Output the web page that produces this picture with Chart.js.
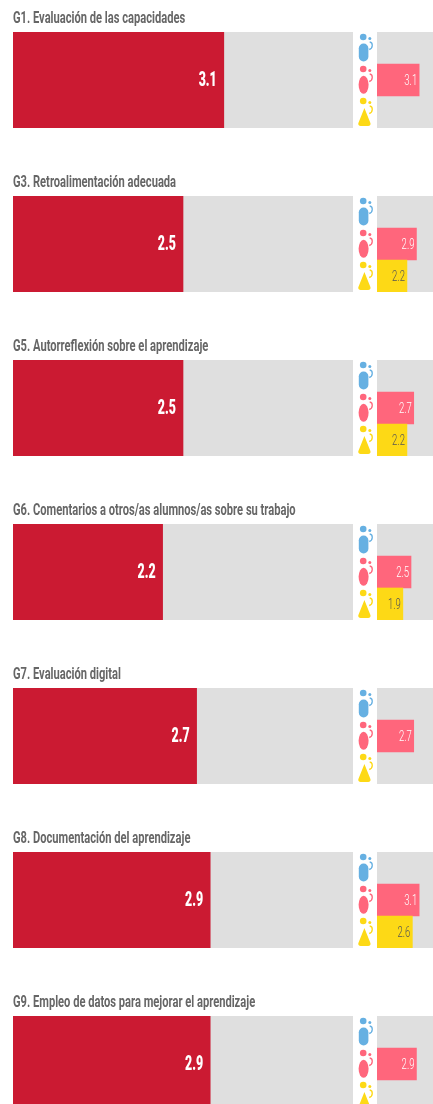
<!DOCTYPE html>
<html><head><meta charset="utf-8">
<script src="https://cdn.jsdelivr.net/npm/chart.js@4"></script>
<style>
html,body{margin:0;padding:0;width:433px;height:1104px;overflow:hidden;background:#fff}
#wrap{position:relative;width:433px;height:1104px;overflow:hidden;filter:blur(.35px)}
.t{position:absolute;left:13px;font:bold 17px Roboto,sans-serif;color:#666;white-space:nowrap;line-height:18px;transform-origin:left center;transform:scaleX(.655)}
canvas{position:absolute}
svg{position:absolute}
</style></head><body><div id="wrap"></div>
<script>
const titles=["G1. Evaluación de las capacidades","G3. Retroalimentación adecuada","G5. Autorreflexión sobre el aprendizaje","G6. Comentarios a otros/as alumnos/as sobre su trabajo","G7. Evaluación digital","G8. Documentación del aprendizaje","G9. Empleo de datos para mejorar el aprendizaje"];
const overall=[3.1,2.5,2.5,2.2,2.7,2.9,2.9];
const blueSeries=[null,null,null,null,null,null,null];
const pinkSeries=[3.1,2.9,2.7,2.5,2.7,3.1,2.9];
const yellowSeries=[null,2.2,2.2,1.9,null,2.6,null];
const axisMax=5;
const GREY='#dfdfdf',RED='#cb1a32',PINK='#ff667c',YEL='#fdd916',BLUE='#66b0e2';

const bg={id:'bg',beforeDraw(c){const a=c.chartArea,x=c.ctx;x.save();x.fillStyle=GREY;x.fillRect(a.left,a.top,a.right-a.left,a.bottom-a.top);x.restore();}};
const labels={id:'labels',afterDatasetsDraw(c,_,o){const x=c.ctx,m=c.getDatasetMeta(0),d=c.data.datasets[0];
 m.data.forEach((b,i)=>{const v=d.data[i];if(v==null)return;x.save();x.textBaseline='middle';x.textAlign='right';x.font=o.font;x.fillStyle=o.colors[i];x.translate(b.x-o.pad,b.y+1);x.scale(o.sx,1);x.fillText(v.toFixed(1),0,0);x.restore();});}};
function opts(lbl){return{responsive:false,animation:false,indexAxis:'y',devicePixelRatio:1,layout:{padding:0},
 scales:{x:{display:false,min:0,max:axisMax},y:{display:false}},
 plugins:{legend:{display:false},tooltip:{enabled:false},labels:lbl}};}
const wrap=document.getElementById('wrap');
function canvas(l,t,w,h){const c=document.createElement('canvas');c.width=w;c.height=h;c.style.cssText=`left:${l}px;top:${t}px;width:${w}px;height:${h}px`;wrap.appendChild(c);return c;}
function icon(t,color,kind){const s=document.createElementNS('http://www.w3.org/2000/svg','svg');s.setAttribute('width',16);s.setAttribute('height',32);s.setAttribute('viewBox','0 0 16 32');s.style.cssText=`left:358px;top:${t}px`;
 const body=kind==0?'<rect x="0.8" y="10.5" width="9.6" height="18" rx="4.8"/>':kind==1?'<ellipse cx="5.6" cy="19.8" rx="5" ry="9"/>':'<path d="M6.4 11 L12.4 26 C13 28.5 11.5 29 6.4 29 C1.3 29 -0.2 28.5 0.4 26 Z"/>';
 s.innerHTML=`<g fill="${color}"><circle cx="5.2" cy="4" r="3.3"/><circle cx="11.8" cy="5.5" r="1.5"/>${body}</g><path d="M11.7 9 C15.2 9.5 15.2 15.5 11.2 16.5" fill="none" stroke="${color}" stroke-width="1.3"/>`;
 wrap.appendChild(s);}
titles.forEach((t,i)=>{
 const top=32+164*i;
 const d=document.createElement('div');d.className='t';d.textContent=t;d.style.top=(top-24)+'px';wrap.appendChild(d);
 new Chart(canvas(13,top,340,96),{type:'bar',plugins:[bg,labels],data:{labels:[t],datasets:[{data:[overall[i]],backgroundColor:RED,barPercentage:1,categoryPercentage:1}]},
  options:opts({font:'900 20px Roboto',colors:['#fff'],pad:7,sx:.62})});
 new Chart(canvas(377,top,68,96),{type:'bar',plugins:[bg,labels],data:{labels:['a','b','c'],datasets:[{data:[blueSeries[i],pinkSeries[i],yellowSeries[i]],backgroundColor:[BLUE,PINK,YEL],barPercentage:1,categoryPercentage:1}]},
  options:opts({font:'300 14px Roboto',colors:['#fff','#fff','#555'],pad:2,sx:.68})});
 icon(top+1,BLUE,0);icon(top+33,PINK,1);icon(top+65,YEL,2);
});
</script></body></html>
